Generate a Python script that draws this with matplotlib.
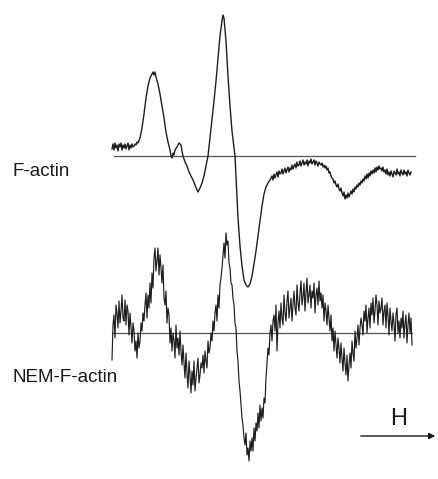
import matplotlib
matplotlib.use('Agg')
import matplotlib.pyplot as plt
import numpy as np

# EPR spectra; field in px along the sweep, signal up = positive
f_actin_field = ([112, 113, 114, 115, 116, 117, 118, 119, 120, 121, 122, 123, 124, 125, 126, 127, 128, 129,
                  130, 131, 132, 133, 134, 135, 136, 137, 138,
                  140, 142, 144, 146, 148, 150, 152, 153, 154, 155, 156, 158, 160, 162, 164, 166, 168, 170,
                  171, 172, 173, 174, 175, 177, 179, 180, 181, 182, 183, 185, 187, 189, 191, 193, 195, 197,
                  198, 200, 202, 204, 206, 208, 210, 212, 214, 216, 218, 220, 222, 223, 224, 226, 228, 230,
                  232, 234, 235, 236, 238, 240, 242, 244, 246, 248, 250, 252, 254, 256, 258, 260,
                  262, 264, 266, 268, 270]
                 + list(range(272, 412)))
f_actin = [7, 12, 6, 13, 8, 11, 5, 12, 9, 13, 6, 11, 8, 12, 7, 10, 13, 6,
           11, 8, 12, 9, 10, 12, 11, 14, 13,
           18, 28, 42, 58, 70, 78, 82, 84, 81, 84, 79, 72, 62, 50, 38, 24, 14, 6,
           0, -2, 3, 1, 6, 9, 13, 12, 11, 5, 0, -6, -10, -16, -20, -24, -29, -34,
           -36, -32, -27, -20, -10, 0, 18, 35, 55, 75, 98, 120, 135, 141, 138, 115, 80, 50,
           25, 8, 0, -20, -62, -90, -110, -124, -129, -131, -128, -120, -108, -95, -80, -65,
           -50, -38, -31, -27, -24,
           -20, -24, -18, -22, -19, -16, -21, -15, -18, -17,
           -13, -18, -15, -12, -17, -14, -11, -16, -12, -14,
           -9, -13, -10, -8, -12, -6, -10, -9, -5, -10,
           -7, -4, -9, -6, -8, -4, -10, -5, -7, -3,
           -8, -6, -4, -9, -5, -7, -10, -6, -8, -9,
           -7, -11, -9, -12, -10, -14, -12, -17, -16, -20,
           -22, -23, -27, -25, -29, -31, -28, -33, -35, -32,
           -37, -40, -36, -43, -39, -42, -37, -41, -38, -35,
           -38, -33, -36, -31, -33, -29, -31, -27, -29, -25,
           -27, -23, -25, -20, -23, -18, -22, -17, -20, -15,
           -18, -14, -17, -12, -16, -11, -14, -10, -13, -12,
           -15, -11, -16, -14, -18, -13, -19, -16, -20, -15,
           -18, -21, -15, -17, -19, -13, -18, -16, -20, -14,
           -17, -19, -14, -18, -16, -20, -14, -17, -19, -16]

nem_field = list(range(112, 413))
nem_f_actin = [-27, 8, 18, -5, 28, 20, 5, 32, 10, 22,
               38, 15, 12, 33, 8, 28, 22, -2, 20, 6,
               -10, 10, 2, -18, -8, -25, 0, -15, -8, 10,
               2, 20, 12, 28, 40, 15, 38, 25, 50, 30,
               60, 45, 75, 85, 62, 72, 85, 58, 78, 65,
               50, 68, 35, 28, 42, 10, 25, 18, -10, 5,
               -18, 0, -8, -25, 8, -15, -5, -22, 2, -18,
               -32, -12, -30, -45, -20, -40, -55, -28, -42, -60,
               -38, -52, -28, -58, -45, -35, -25, -50, -42, -30,
               -35, -22, -40, -18, -28, -35, -8, -20, -15, 0,
               -8, 12, 2, 20, 28, 12, 38, 25, 48, 55,
               65, 78, 90, 75, 100, 88, 92, 70, 65, 50,
               48, 35, 28, 10, 5, -18, -28, -48, -58, -72,
               -85, -92, -105, -112, -100, -122, -115, -128, -108, -118,
               -105, -118, -95, -108, -90, -98, -80, -95, -72, -88,
               -75, -85, -65, -70, -45, -30, -15, -22, 0, 8,
               -8, 12, 18, 2, 28, -18, 10, 22, 5, 30,
               15, 8, 38, 20, 12, 32, 42, 15, 25, 35,
               12, 28, 42, 25, 18, 48, 30, 22, 40, 52,
               28, 36, 50, 22, 40, 55, 30, 38, 48, 25,
               42, 35, 50, 20, 38, 45, 28, 52, 32, 40,
               25, 38, 12, 30, 22, 8, 28, 15, 2, 18,
               -8, 5, -18, 2, -12, -25, -5, -15, -30, -10,
               -25, -38, -15, -30, -42, -22, -48, -32, -20, -35,
               -8, -20, -28, 2, -15, -5, 8, -12, 5, 15,
               8, -2, 22, 12, 28, 0, 15, 25, 5, 30,
               18, 35, 10, 22, 38, 28, 8, 32, 20, 25,
               35, 8, 22, 28, 5, 30, 18, -2, 25, 12,
               2, 20, 10, -8, 18, 25, 0, 12, -5, 15,
               5, 22, -5, 10, 18, -10, 8, 20, 0, 15,
               -12]

labels = ['F-actin', 'NEM-F-actin']

fig = plt.figure(figsize=(4.38, 4.79), dpi=100)
ax = fig.add_axes([0, 0, 1, 1])
ax.set_xlim(0, 438)
ax.set_ylim(479, 0)
ax.axis('off')

top_base = 156
bot_base = 333

ax.plot([114, 415], [top_base, top_base], color='#555555', lw=0.9)
ax.plot([112, 412], [bot_base, bot_base], color='#555555', lw=0.9)

ax.plot(f_actin_field, top_base - np.array(f_actin), color='#1e1e1e', lw=1.0)
ax.plot(nem_field, bot_base - np.array(nem_f_actin), color='#1e1e1e', lw=0.85)

ax.text(12, 172, labels[0], fontsize=13.5, family='Liberation Sans', va='center', ha='left', color='#1a1a1a')
ax.text(13, 378, labels[1], fontsize=13.5, family='Liberation Sans', va='center', ha='left', color='#1a1a1a')

ax.annotate('', xy=(438, 436), xytext=(358, 436),
            arrowprops=dict(arrowstyle='-|>', color='#1a1a1a', lw=1.0, mutation_scale=9))
ax.text(399, 419, 'H', fontsize=17, family='Liberation Sans', va='center', ha='center', color='#1a1a1a')

fig.savefig('out.png', dpi=100, facecolor='white')
